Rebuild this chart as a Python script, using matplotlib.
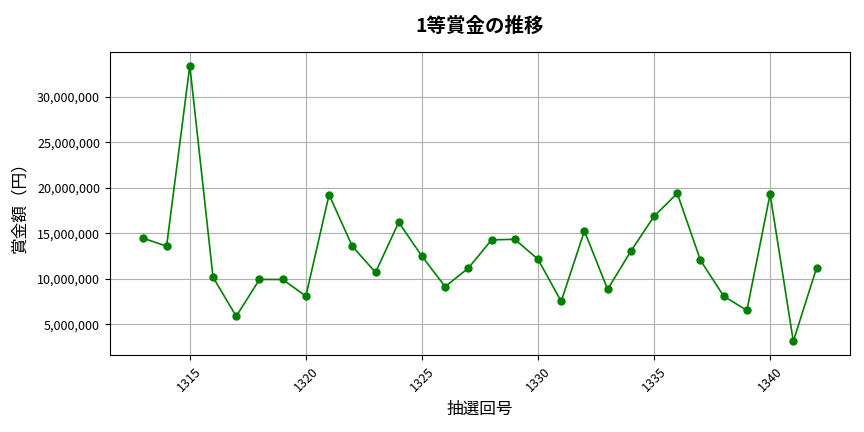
import matplotlib
matplotlib.use("Agg")
import matplotlib.pyplot as plt
from matplotlib.ticker import FuncFormatter

plt.rcParams['font.family'] = ['Noto Sans CJK JP', 'DejaVu Sans']

# 抽選回号 and 1等賞金
draws = list(range(1313, 1343))
prize = [14450000, 13580000, 33400000, 10180000, 5880000, 9930000, 9930000, 8100000,
         19230000, 13580000, 10700000, 16200000, 12480000, 9140000, 11170000, 14270000,
         14340000, 12150000, 7520000, 15250000, 8850000, 13030000, 16860000, 19380000,
         12040000, 8100000, 6530000, 19300000, 3140000, 11170000]

fig = plt.figure(figsize=(8.64, 4.32), dpi=100)
ax = fig.add_subplot(111)
fig.subplots_adjust(left=0.127, right=0.984, top=0.88, bottom=0.178)

ax.plot(draws, prize, "o-", color="green", markersize=5, linewidth=1.2)

ax.set_title("1等賞金の推移", fontsize=14, fontweight="bold", pad=14)
ax.set_xlabel("抽選回号", fontsize=12, labelpad=5)
ax.set_ylabel("賞金額（円）", fontsize=12, labelpad=6)
ax.yaxis.set_major_formatter(FuncFormatter(lambda v, p: f"{int(v):,}"))
ax.tick_params(axis="x", labelrotation=45, labelsize=9)
ax.tick_params(axis="y", labelsize=9)
ax.grid(True)

fig.savefig("out.png")
